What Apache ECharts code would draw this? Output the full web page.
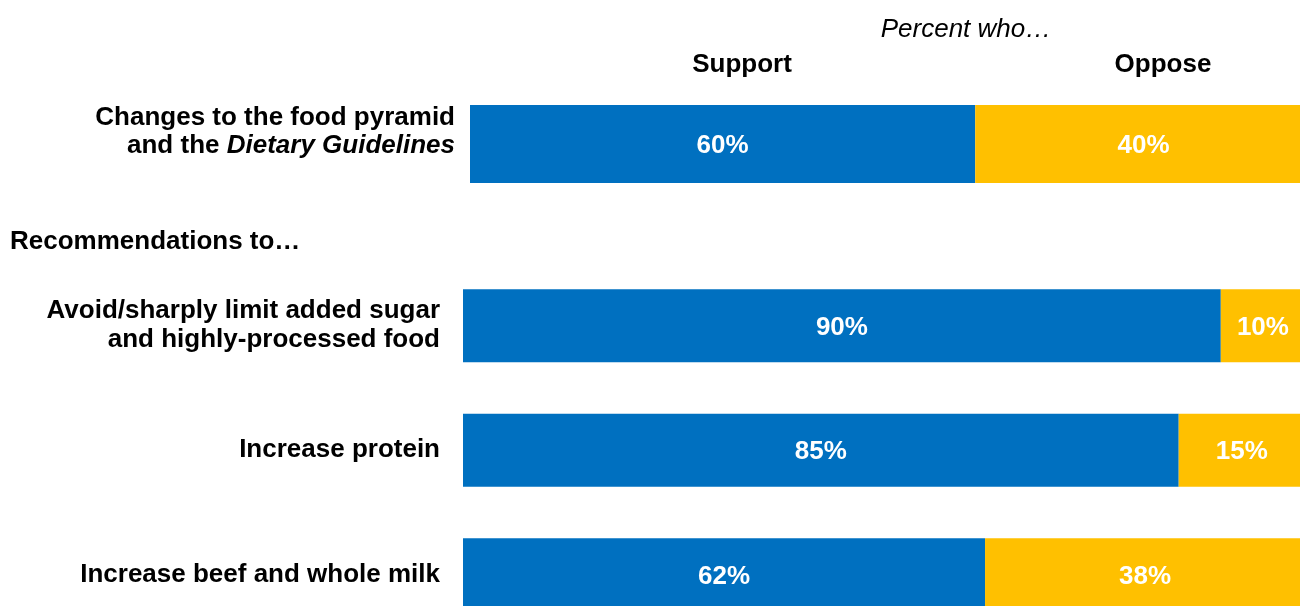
<!DOCTYPE html>
<html>
<head>
<meta charset="utf-8">
<script src="https://cdn.jsdelivr.net/npm/echarts@6/dist/echarts.min.js"></script>
<style>
html,body{margin:0;padding:0;background:#fff;overflow:hidden;width:1300px;height:606px;}
#c{width:1330px;height:650px;}
</style>
</head>
<body>
<div id="c"></div>
<script>
var topCategory = ['Changes to the food pyramid and the Dietary Guidelines'];
var topSupport = [60];
var topOppose = [40];

var recCategories = ['Avoid/sharply limit added sugar and highly-processed food', 'Increase protein', 'Increase beef and whole milk'];
var recSupport = [90, 85, 62];
var recOppose = [10, 15, 38];

var headerLabels = ['Support', 'Oppose'];
var colors = ['#0070C0', '#FFC000'];

var FONT = '"Liberation Sans", Arial, sans-serif';
var FS = 26;

var chart = echarts.init(document.getElementById('c'), null, {renderer: 'canvas'});

function catFormatter(v) {
  if (v === topCategory[0]) return '{b|Changes to the food pyramid}\n{b|and the }{i|Dietary Guidelines}';
  if (v === recCategories[0]) return '{b|Avoid/sharply limit added sugar}\n{b|and highly-processed food}';
  return '{b|' + v + '}';
}

var segLabel = {
  show: true, position: 'inside', color: '#fff', fontFamily: FONT, fontWeight: 'bold', fontSize: FS,
  offset: [0, 2],
  formatter: function(p){ return p.value + '%'; }
};

var option = {
  animation: false,
  backgroundColor: '#fff',
  grid: [
    {left: 470, top: 105, width: 842, height: 78},
    {left: 463, top: 263.5, width: 842, height: 373.5}
  ],
  xAxis: [
    {gridIndex: 0, type: 'value', min: 0, max: 100, show: false},
    {gridIndex: 1, type: 'value', min: 0, max: 100, show: false}
  ],
  yAxis: [
    {gridIndex: 0, type: 'category', data: topCategory, axisLine: {show: false}, axisTick: {show: false},
     axisLabel: {margin: 15, formatter: catFormatter, align: 'right', padding: [0, 0, 24, 0], rich: {
       b: {fontFamily: FONT, fontWeight: 'bold', fontSize: FS, color: '#000', lineHeight: 28},
       i: {fontFamily: FONT, fontWeight: 'bold', fontStyle: 'italic', fontSize: FS, color: '#000', lineHeight: 28}
     }}},
    {gridIndex: 1, type: 'category', data: recCategories, inverse: true, axisLine: {show: false}, axisTick: {show: false},
     axisLabel: {margin: 23, formatter: catFormatter, align: 'right', rich: {
       b: {fontFamily: FONT, fontWeight: 'bold', fontSize: FS, color: '#000', lineHeight: 29}
     }}}
  ],
  series: [
    {type: 'bar', xAxisIndex: 0, yAxisIndex: 0, stack: 't', data: topSupport, barWidth: 78, itemStyle: {color: colors[0]}, label: segLabel},
    {type: 'bar', xAxisIndex: 0, yAxisIndex: 0, stack: 't', data: topOppose, barWidth: 78, itemStyle: {color: colors[1]}, label: segLabel},
    {type: 'bar', xAxisIndex: 1, yAxisIndex: 1, stack: 'r', data: recSupport, barWidth: 73, itemStyle: {color: colors[0]}, label: segLabel},
    {type: 'bar', xAxisIndex: 1, yAxisIndex: 1, stack: 'r', data: recOppose, barWidth: 73, itemStyle: {color: colors[1]}, label: segLabel}
  ],
  graphic: [
    {type: 'text', style: {text: 'Percent who…', x: 966, y: 30, align: 'center', verticalAlign: 'middle', fontFamily: FONT, fontStyle: 'italic', fontSize: FS, fill: '#000'}},
    {type: 'text', style: {text: headerLabels[0], x: 742, y: 65, align: 'center', verticalAlign: 'middle', fontFamily: FONT, fontWeight: 'bold', fontSize: FS, fill: '#000'}},
    {type: 'text', style: {text: headerLabels[1], x: 1163, y: 65, align: 'center', verticalAlign: 'middle', fontFamily: FONT, fontWeight: 'bold', fontSize: FS, fill: '#000'}},
    {type: 'text', style: {text: 'Recommendations to…', x: 10, y: 242, align: 'left', verticalAlign: 'middle', fontFamily: FONT, fontWeight: 'bold', fontSize: FS, fill: '#000'}}
  ]
};
chart.setOption(option);
</script>
</body>
</html>
